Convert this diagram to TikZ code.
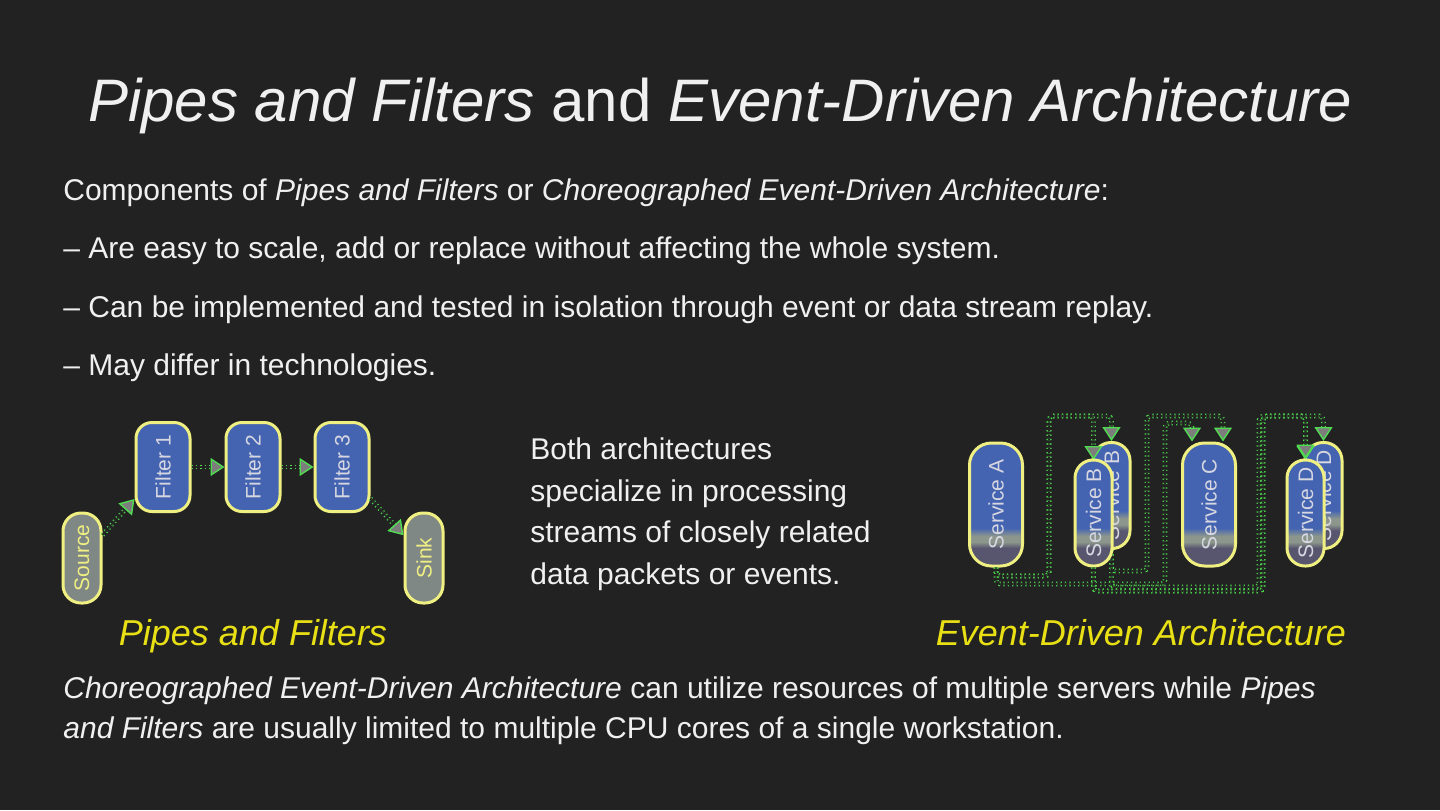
\documentclass[tikz,border=0pt]{standalone}
\usepackage{fontspec}
\setmainfont{Liberation Sans}
\usepackage{graphicx}
\usetikzlibrary{arrows.meta}

\definecolor{slidebg}{RGB}{34,34,34}
\definecolor{slidetext}{RGB}{240,240,240}
\definecolor{boxblue}{RGB}{68,100,178}
\definecolor{boxgray}{RGB}{128,136,134}
\definecolor{boxline}{RGB}{240,240,130}
\definecolor{boxtext}{RGB}{215,215,225}
\definecolor{pipegreen}{RGB}{80,220,80}
\definecolor{tipgray}{RGB}{125,125,125}
\definecolor{capyellow}{RGB}{232,224,20}
\definecolor{svcgray}{RGB}{140,150,140}
\definecolor{svcdark}{RGB}{88,86,110}

\newcommand{\bodysize}{\fontsize{15}{20.7}\selectfont}
\newcommand{\boxsize}{\fontsize{10.5}{12}\selectfont}

\begin{document}
\begin{tikzpicture}[x=0.5pt,y=-0.5pt,
  bodyline/.style={anchor=base west,inner sep=0pt,text=slidetext,font=\bodysize},
  caption/.style={anchor=base,inner sep=0pt,text=capyellow,font=\fontsize{18}{22}\selectfont\itshape},
  filterbox/.style={draw=boxline,line width=1.5pt,fill=boxblue,rounded corners=8pt,
    minimum width=27pt,minimum height=44.5pt,inner sep=0pt,text=boxtext,font=\boxsize},
  endbox/.style={draw=boxline,line width=1.5pt,fill=boxgray,rounded corners=9pt,
    minimum width=19pt,minimum height=45pt,inner sep=0pt,text=boxline,font=\boxsize},
  svcbox/.style={draw=boxline,line width=1.5pt,rounded corners=9pt,inner sep=0pt,
    text=boxtext,font=\boxsize,
    path picture={
      \fill[svcdark,sharp corners] (path picture bounding box.south west) rectangle (path picture bounding box.north east);
      \shade[bottom color=svcdark,top color=svcgray,sharp corners] ([yshift=9pt]path picture bounding box.south west) rectangle ([yshift=12pt]path picture bounding box.south east);
      \fill[svcgray,sharp corners] ([yshift=12pt]path picture bounding box.south west) rectangle ([yshift=15pt]path picture bounding box.south east);
      \shade[bottom color=svcgray,top color=boxblue,sharp corners] ([yshift=15pt]path picture bounding box.south west) rectangle ([yshift=19pt]path picture bounding box.south east);
      \fill[boxblue,sharp corners] ([yshift=19pt]path picture bounding box.south west) rectangle (path picture bounding box.north east);
    }},
  bigsvc/.style={svcbox,rounded corners=11pt,minimum width=26.5pt,minimum height=61.5pt},
  smallsvc/.style={svcbox,minimum width=18.5pt,minimum height=53pt},
  pipe/.style={draw=pipegreen,line width=0.6pt,dash pattern=on 0.6pt off 1.6pt,
    double=slidebg,double distance=1.1pt,
    -{Triangle[length=7pt,width=9pt,fill=tipgray,line width=0.7pt]}},
  route/.style={pipe,rounded corners=2pt}
]
  \fill[slidebg] (0,0) rectangle (1440,810);
  \useasboundingbox (0,0) rectangle (1440,810);

  % title and text
  \node[anchor=base,inner sep=0pt,text=slidetext,font=\fontsize{30}{36}\selectfont] (title) at (720,121)
    {\textit{Pipes and Filters} and \textit{Event-Driven Architecture}};
  \node[bodyline] (intro) at (63,200) {Components of \textit{Pipes and Filters} or \textit{Choreographed Event-Driven Architecture}:};
  \node[bodyline] (item1) at (63,258.5) {– Are easy to scale, add or replace without affecting the whole system.};
  \node[bodyline] (item2) at (63,317) {– Can be implemented and tested in isolation through event or data stream replay.};
  \node[bodyline] (item3) at (63,375.5) {– May differ in technologies.};
  \node[bodyline,align=left] (both) at (530,584)
    {Both architectures\\specialize in processing\\streams of closely related\\data packets or events.};
  \node[caption] (pfcap) at (253,645) {Pipes and Filters};
  \node[caption] (edacap) at (1141,645) {Event-Driven Architecture};
  \node[bodyline] (note1) at (63,698.5) {\textit{Choreographed Event-Driven Architecture} can utilize resources of multiple servers while \textit{Pipes}};
  \node[bodyline] (note2) at (63,738.5) {\textit{and Filters} are usually limited to multiple CPU cores of a single workstation.};

  % pipes and filters
  \node[endbox] (source) at (82,558) {\rotatebox{90}{Source}};
  \node[filterbox] (filter1) at (163,467) {\rotatebox{90}{Filter 1}};
  \node[filterbox] (filter2) at (253,467) {\rotatebox{90}{Filter 2}};
  \node[filterbox] (filter3) at (342,467) {\rotatebox{90}{Filter 3}};
  \node[endbox] (sink) at (424,558) {\rotatebox{90}{Sink}};

  \draw[pipe] (source) -- (filter1);
  \draw[pipe] (filter1) -- (filter2);
  \draw[pipe] (filter2) -- (filter3);
  \draw[pipe] (filter3) -- (sink);

  % event-driven architecture
  \node[bigsvc] (svcA) at (996,504.5) {\rotatebox{90}{Service A}};
  \node[smallsvc] (svcBb) at (1111.5,495.5) {\rotatebox{90}{Service B}};
  \node[bigsvc] (svcC) at (1209,504.5) {\rotatebox{90}{Service C}};
  \node[smallsvc] (svcDb) at (1323.5,495.5) {\rotatebox{90}{Service D}};

  \draw[route] (svcA.south) |- (1049,576) -- (1049,416) -| (svcBb.north);
  \draw[route] (svcA.south) |- (1049,576) -- (1049,416) -| (1093.5,460);
  \draw[route] (svcA.south) |- (1165,584) -- (1165,423) -| ([xshift=-8.5pt]svcC.north);
  \draw[route] (svcBb.south) |- (1147,571) -- (1147,416) -| ([xshift=7pt]svcC.north);
  \draw[route] (svcBb.south) |- (1259,587) -- (1259,416) -| (1305.5,460);

  \node[smallsvc] (svcBf) at (1093.5,513) {\rotatebox{90}{Service B}};
  \node[smallsvc] (svcDf) at (1305.5,513) {\rotatebox{90}{Service D}};

  \draw[route] (svcBf.south) |- (1263,591) -- (1263,416) -| (svcDb.north);
  \draw[route] (svcBf.south) |- (1263,591) -- (1263,416) -| (svcDf.north);
\end{tikzpicture}
\end{document}
